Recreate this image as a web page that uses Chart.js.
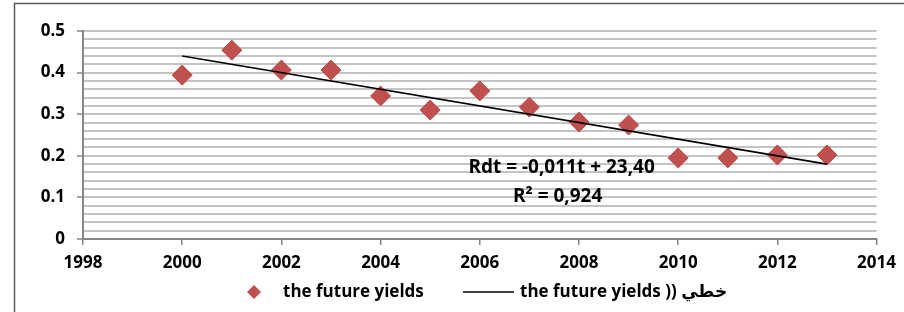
<!DOCTYPE html>
<html>
<head>
<meta charset="utf-8">
<script src="https://cdn.jsdelivr.net/npm/chart.js@4"></script>
<style>
    html, body { margin: 0; padding: 0; background: #fff; }
    #wrap { width: 904px; height: 312px; position: relative; }
</style>
</head>
<body>
<div id="wrap"><canvas id="chart" width="904" height="312"></canvas></div>
<script>
// data
const years = [2000, 2001, 2002, 2003, 2004, 2005, 2006, 2007, 2008, 2009, 2010, 2011, 2012, 2013];
const yields = [0.394, 0.454, 0.406, 0.406, 0.344, 0.310, 0.356, 0.317, 0.281, 0.274, 0.195, 0.195, 0.202, 0.202];

// linear trend line (ends as drawn in the picture)
const trendYears = [2000, 2013];
const trendValues = [0.44, 0.18];

const xMin = 1998, xMax = 2014, xStep = 2;
const yMin = 0, yMax = 0.5, yMinorStep = 0.02, yMajorStep = 0.1;

const seriesLabel = "the future yields";
const trendLabel = "the future yields )) خطي";
const equationLines = ["Rdt = -0,011t + 23,40", "R² = 0,924"];
const equationAt = [{ x: 2007.65, y: 0.171 }, { x: 2007.57, y: 0.101 }];

const FONT = "'Open Sans', 'DejaVu Sans', sans-serif";
const RED = "#C0504D";

const isMajor = v => Math.abs(v / yMajorStep - Math.round(v / yMajorStep)) < 1e-6;

// outer frame of the chart object
const framePlugin = {
    id: "frame",
    beforeDraw(chart) {
        const c = chart.ctx;
        c.save();
        c.strokeStyle = "#5a5a5a";
        c.lineWidth = 1.5;
        c.strokeRect(14.5, 3.5, 1000, 1000);
        c.restore();
    }
};

// equation label of the trend line
const equationPlugin = {
    id: "equation",
    afterDatasetsDraw(chart) {
        const c = chart.ctx;
        const xs = chart.scales.x, ys = chart.scales.y;
        c.save();
        c.font = `bold 19px ${FONT}`;
        c.fillStyle = "#000";
        c.textAlign = "center";
        c.textBaseline = "middle";
        equationLines.forEach((t, i) => {
            c.fillText(t, xs.getPixelForValue(equationAt[i].x), ys.getPixelForValue(equationAt[i].y));
        });
        c.restore();
    }
};

// legend under the axis
const legendPlugin = {
    id: "bottomLegend",
    afterDraw(chart) {
        const c = chart.ctx;
        const y = 292;
        c.save();
        c.font = `bold 17px ${FONT}`;
        c.textBaseline = "middle";
        c.textAlign = "left";

        // diamond marker
        const x = 254;
        c.fillStyle = RED;
        c.beginPath();
        c.moveTo(x, y - 7);
        c.lineTo(x + 7, y);
        c.lineTo(x, y + 7);
        c.lineTo(x - 7, y);
        c.closePath();
        c.fill();

        c.fillStyle = "#000";
        c.fillText(seriesLabel, 283, y);

        // line marker
        c.strokeStyle = "#000";
        c.lineWidth = 1.5;
        c.beginPath();
        c.moveTo(463, y);
        c.lineTo(514, y);
        c.stroke();

        c.fillText(trendLabel, 520, y);
        c.restore();
    }
};

new Chart(document.getElementById("chart"), {
    type: "scatter",
    data: {
        datasets: [
            {
                label: seriesLabel,
                data: years.map((yr, i) => ({ x: yr, y: yields[i] })),
                pointStyle: "rectRot",
                pointRadius: 10,
                pointHoverRadius: 10,
                backgroundColor: RED,
                borderColor: "#B9494A",
                borderWidth: 1,
                order: 1
            },
            {
                label: trendLabel,
                data: trendYears.map((yr, i) => ({ x: yr, y: trendValues[i] })),
                showLine: true,
                borderColor: "#000",
                borderWidth: 1.6,
                pointRadius: 0,
                fill: false,
                order: 0
            }
        ]
    },
    options: {
        responsive: false,
        animation: false,
        events: [],
        layout: { padding: { top: 31, right: 25, left: 0, bottom: 0 } },
        plugins: {
            legend: { display: false },
            tooltip: { enabled: false }
        },
        scales: {
            x: {
                type: "linear",
                min: xMin,
                max: xMax,
                afterFit: s => { s.height = 73; },
                ticks: {
                    stepSize: xStep,
                    color: "#000",
                    padding: 8,
                    font: { family: FONT, size: 17, weight: "bold" },
                    callback: v => String(v)
                },
                grid: {
                    drawOnChartArea: false,
                    drawTicks: true,
                    tickLength: 6,
                    color: "#868686",
                    lineWidth: 1.5
                },
                border: { color: "#868686", width: 2 }
            },
            y: {
                min: yMin,
                max: yMax,
                afterFit: s => { s.width = 83; },
                ticks: {
                    stepSize: yMinorStep,
                    autoSkip: false,
                    color: "#000",
                    padding: 12,
                    font: { family: FONT, size: 17, weight: "bold" },
                    callback: v => isMajor(v) ? (Math.abs(v) < 1e-9 ? "0" : v.toFixed(1)) : ""
                },
                grid: {
                    color: "#c4c4c4",
                    lineWidth: 2,
                    tickLength: 6,
                    tickColor: ctx => (ctx.tick && isMajor(ctx.tick.value)) ? "#868686" : "rgba(0,0,0,0)",
                    tickWidth: 1.5
                },
                border: { color: "#868686", width: 2 }
            }
        }
    },
    plugins: [framePlugin, equationPlugin, legendPlugin]
});
</script>
</body>
</html>
